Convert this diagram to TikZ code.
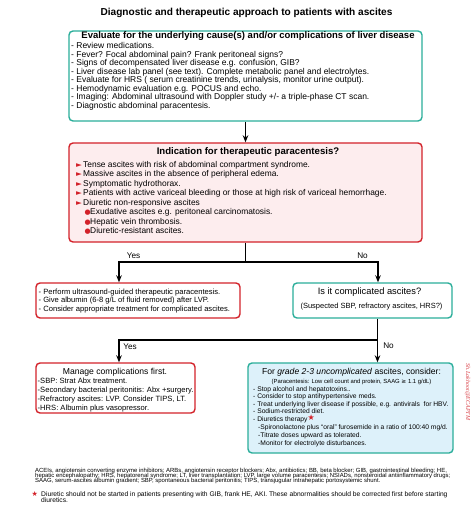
\documentclass[tikz,border=0pt]{standalone}
\usepackage{fontspec}
\setmainfont{Liberation Sans}
\newfontfamily\symfont{DejaVu Sans}
\newfontfamily\markfont{Liberation Serif}
\usetikzlibrary{arrows.meta}
\definecolor{tealline}{HTML}{2BAE9A}
\definecolor{redline}{HTML}{D3222A}
\definecolor{pinkfill}{HTML}{FDEDEE}
\definecolor{bluefill}{HTML}{DDF1FA}
\newcommand{\fsz}[1]{\fontsize{#1}{#1}\selectfont}
\newcommand{\redtri}{\makebox[7pt][l]{\color{redline}\symfont\fsz{7.5}►}}
\newcommand{\reddot}{\makebox[5.5pt][l]{\color{redline}\symfont\fsz{7}●}}
\newcommand{\redstar}{{\color{redline}\symfont ★}}
\begin{document}
\begin{tikzpicture}[x=1pt,y=-1pt,
  tealbox/.style={draw=tealline,line width=1.4pt,rounded corners=4pt,inner sep=0pt},
  redbox/.style={draw=redline,line width=1.4pt,rounded corners=4pt,inner sep=0pt},
  txt/.style={inner sep=0pt,anchor=west,text height=5.5pt,text depth=1.5pt},
  ctr/.style={inner sep=0pt,anchor=center,text height=5.5pt,text depth=1.5pt},
  link/.style={line width=1.2pt},
  arrowlink/.style={line width=1.2pt,-{Stealth[length=7pt,width=5.5pt]}}]
  \useasboundingbox[fill=white] (0,0) rectangle (474,513);
  \node[ctr,font=\bfseries\fsz{10.1}] (title) at (246.5,14) {Diagnostic and therapeutic approach to patients with ascites};
  % evaluation box
  \node[tealbox,fill=white,minimum width=353pt,minimum height=90pt] (evalbox) at (245.5,76) {};
  \node[ctr,font=\bfseries\fsz{9.5}] (evalhead) at (248,37) {Evaluate for the underlying cause(s) and/or complications of liver disease};
  \node[txt,font=\fsz{8.5}] (evalA) at (71,47) {- Review medications.};
  \node[txt,font=\fsz{8.5}] (evalB) at (71,55.5) {- Fever? Focal abdominal pain? Frank peritoneal signs?};
  \node[txt,font=\fsz{8.5}] (evalC) at (71,64) {- Signs of decompensated liver disease e.g. confusion, GIB?};
  \node[txt,font=\fsz{8.5}] (evalD) at (71,72.5) {- Liver disease lab panel (see text). Complete metabolic panel and electrolytes.};
  \node[txt,font=\fsz{8.5}] (evalE) at (71,81) {- Evaluate for HRS ( serum creatinine trends, urinalysis, monitor urine output).};
  \node[txt,font=\fsz{8.5}] (evalF) at (71,89.5) {- Hemodynamic evaluation e.g. POCUS and echo.};
  \node[txt,font=\fsz{8.5}] (evalG) at (71,98) {- Imaging: Abdominal ultrasound with Doppler study +/- a triple-phase CT scan.};
  \node[txt,font=\fsz{8.5}] (evalH) at (71,106.5) {- Diagnostic abdominal paracentesis.};
  % indication box
  \node[redbox,fill=pinkfill,minimum width=353pt,minimum height=99pt] (indbox) at (245.5,192.5) {};
  \node[ctr,font=\bfseries\fsz{9.6}] (indhead) at (248,152) {Indication for therapeutic paracentesis?};
  \node[txt,font=\fsz{8.4}] (indA) at (76,165) {\redtri Tense ascites with risk of abdominal compartment syndrome.};
  \node[txt,font=\fsz{8.4}] (indB) at (76,174.5) {\redtri Massive ascites in the absence of peripheral edema.};
  \node[txt,font=\fsz{8.4}] (indC) at (76,184) {\redtri Symptomatic hydrothorax.};
  \node[txt,font=\fsz{8.4}] (indD) at (76,193.5) {\redtri Patients with active variceal bleeding or those at high risk of variceal hemorrhage.};
  \node[txt,font=\fsz{8.4}] (indE) at (76,203) {\redtri Diuretic non-responsive ascites};
  \node[txt,font=\fsz{8.4}] (indF) at (84.5,212.5) {\reddot Exudative ascites e.g. peritoneal carcinomatosis.};
  \node[txt,font=\fsz{8.4}] (indG) at (84.5,222) {\reddot Hepatic vein thrombosis.};
  \node[txt,font=\fsz{8.4}] (indH) at (84.5,231.5) {\reddot Diuretic-resistant ascites.};
  \draw[arrowlink] (evalbox) -- (indbox);
  % first split
  \node[redbox,fill=white,minimum width=204pt,minimum height=35pt] (lvpbox) at (138,300.5) {};
  \node[txt,font=\fsz{7.6}] (lvpA) at (38.5,292) {- Perform ultrasound-guided therapeutic paracentesis.};
  \node[txt,font=\fsz{7.6}] (lvpB) at (38.5,300.5) {- Give albumin (6-8 g/L of fluid removed) after LVP.};
  \node[txt,font=\fsz{7.6}] (lvpC) at (38.5,309) {- Consider appropriate treatment for complicated ascites.};
  \node[tealbox,fill=white,minimum width=159pt,minimum height=35pt] (compbox) at (372.5,300.5) {};
  \node[ctr,font=\fsz{9.3}] (comphead) at (369.5,292) {Is it complicated ascites?};
  \node[ctr,font=\fsz{7.5}] (compsub) at (371.5,306) {(Suspected SBP, refractory ascites, HRS?)};
  \coordinate (split1) at (245.5,262);
  \coordinate (yesturn) at (119,262);
  \coordinate (noturn) at (378,262);
  \draw[link] (indbox.south) -- (split1);
  \draw[arrowlink] (split1) -- (yesturn) -- (yesturn |- lvpbox.north);
  \draw[arrowlink] (split1) -- (noturn) -- (noturn |- compbox.north);
  \node[ctr,font=\fsz{8.2}] (yesA) at (133.5,256) {Yes};
  \node[ctr,font=\fsz{8.2}] (noA) at (362.5,256) {No};
  % second split
  \node[redbox,fill=white,minimum width=159pt,minimum height=50pt] (mgmtbox) at (115.5,388) {};
  \node[ctr,font=\fsz{8.6}] (mgmthead) at (115,372) {Manage complications first.};
  \node[txt,font=\fsz{7.6}] (mgmtA) at (37.5,381.5) {-SBP: Strat Abx treatment.};
  \node[txt,font=\fsz{7.6}] (mgmtB) at (37.5,390.5) {-Secondary bacterial peritonitis: Abx +surgery.};
  \node[txt,font=\fsz{7.6}] (mgmtC) at (37.5,399.5) {-Refractory ascites: LVP. Consider TIPS, LT.};
  \node[txt,font=\fsz{7.6}] (mgmtD) at (37.5,408) {-HRS: Albumin plus vasopressor.};
  \node[tealbox,fill=bluefill,minimum width=205pt,minimum height=90pt] (uncbox) at (350.5,408) {};
  \node[ctr,font=\fsz{8.6}] (unchead) at (351.5,372) {For \textit{grade 2-3 uncomplicated} ascites, consider:};
  \node[ctr,font=\fsz{5.9}] (uncsub) at (351.5,381) {(Paracentesis: Low cell count and protein, SAAG {\symfont ≥} 1.1 g/dL)};
  \node[txt,font=\fsz{6.7}] (uncA) at (253,389) {- Stop alcohol and hepatotoxins..};
  \node[txt,font=\fsz{6.7}] (uncB) at (253,396.5) {- Consider to stop antihypertensive meds.};
  \node[txt,font=\fsz{6.7}] (uncC) at (253,404) {- Treat underlying liver disease if possible, e.g. antivirals\ \ for HBV.};
  \node[txt,font=\fsz{6.7}] (uncD) at (253,411.5) {- Sodium-restricted diet.};
  \node[txt,font=\fsz{6.7}] (uncE) at (253,419) {- Diuretics therapy\raisebox{1pt}{\fsz{8}\redstar}};
  \node[txt,font=\fsz{6.7}] (uncF) at (258,427) {-Spironolactone plus ``oral'' furosemide in a ratio of 100:40 mg/d.};
  \node[txt,font=\fsz{6.7}] (uncG) at (258,435) {-Titrate doses upward as tolerated.};
  \node[txt,font=\fsz{6.7}] (uncH) at (258,443) {-Monitor for electrolyte disturbances.};
  \coordinate (split2) at (377.5,340);
  \coordinate (yesturn2) at (119,340);
  \draw[link] (split2 |- compbox.south) -- (split2);
  \draw[arrowlink] (split2) -- (yesturn2) -- (yesturn2 |- mgmtbox.north);
  \draw[arrowlink] (split2) -- (split2 |- uncbox.north);
  \node[ctr,font=\fsz{8.2}] (yesB) at (130,347) {Yes};
  \node[ctr,font=\fsz{8.2}] (noB) at (388.5,346) {No};
  % watermark
  \node[ctr,rotate=-90,text=redline!85,font=\markfont\itshape\fsz{6}] (mark) at (468,392) {Sh.Lakhoot@ECAPTM};
  % footnotes
  \node[txt,font=\fsz{5.95}] (abbrA) at (35,470) {ACEIs, angiotensin converting enzyme inhibitors; ARBs, angiotensin receptor blockers; Abx, antibiotics; BB, beta blocker; GIB, gastrointestinal bleeding; HE,};
  \node[txt,font=\fsz{5.95}] (abbrB) at (35,475.3) {hepatic encephalopathy; HRS, hepatorenal syndrome; LT, liver transplantation; LVP, large volume paracentesis; NSIADs, nonsteroidal antiinflammatory drugs;};
  \node[txt,font=\fsz{5.95}] (abbrC) at (35,480.6) {SAAG, serum-ascites albumin gradient; SBP, spontaneous bacterial peritonitis; TIPS, transjugular intrahepatic portosystemic shunt.};
  \node[txt,font=\fsz{7}] (starnote) at (31.5,494) {\redstar};
  \node[txt,font=\fsz{6.7}] (noteA) at (41,494) {Diuretic should not be started in patients presenting with GIB, frank HE, AKI. These abnormalities should be corrected first before starting};
  \node[txt,font=\fsz{6.7}] (noteB) at (41,500.5) {diuretics.};
\end{tikzpicture}
\end{document}
